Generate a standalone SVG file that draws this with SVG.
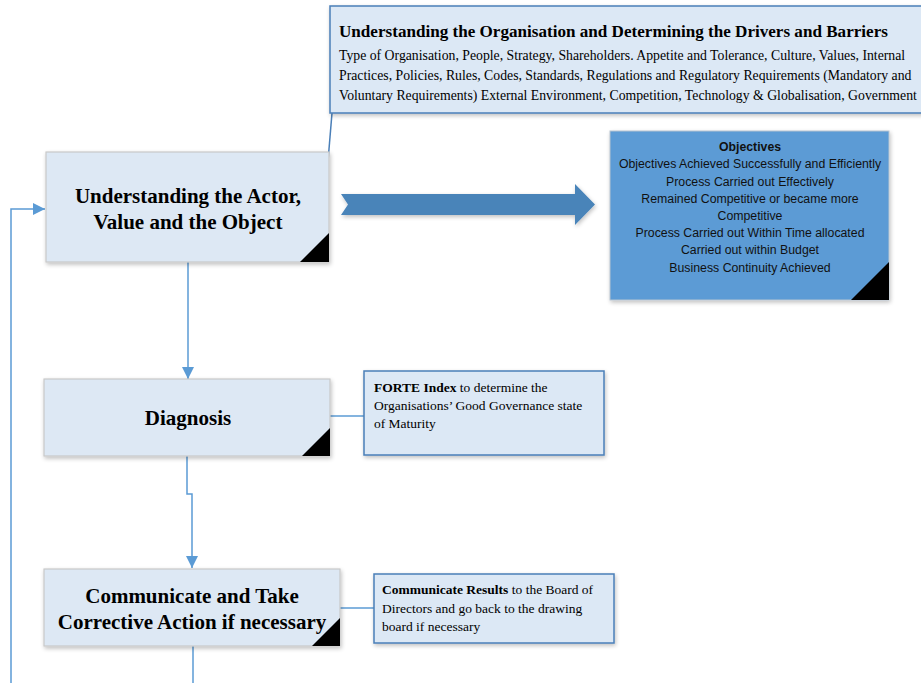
<svg xmlns="http://www.w3.org/2000/svg" width="921" height="683" viewBox="0 0 921 683">
<defs>
<filter id="sh" x="-10%" y="-10%" width="130%" height="130%">
<feGaussianBlur in="SourceAlpha" stdDeviation="2"/>
<feOffset dx="1" dy="2" result="b"/>
<feComponentTransfer><feFuncA type="linear" slope="0.25"/></feComponentTransfer>
<feMerge><feMergeNode/><feMergeNode in="SourceGraphic"/></feMerge>
</filter>
<marker id="ah" viewBox="0 0 10 10" refX="10" refY="5" markerWidth="12" markerHeight="12" markerUnits="userSpaceOnUse" orient="auto">
<path d="M0,0 L10,5 L0,10 Z" fill="#5b9bd5"/>
</marker>
</defs>
<style>
.main{fill:#dde8f4;stroke:#c9c9c9;stroke-width:1.2}
.note{fill:#dce8f5;stroke:#4a7fb8;stroke-width:1.5}
.corner{fill:#000}
.big{font-family:"Liberation Serif",serif;font-weight:bold;font-size:21px;fill:#000;text-anchor:middle}
.nt{font-family:"Liberation Serif",serif;font-size:13.5px;fill:#000}
.ob{font-family:"Liberation Sans",Arial,sans-serif;font-size:12.3px;fill:#111;text-anchor:middle}
.con{fill:none;stroke:#5b9bd5;stroke-width:1.5}
</style>
<rect width="921" height="683" fill="#fff"/>

<g id="connectors">
<line x1="328" y1="161" x2="332" y2="113" stroke="#4a7fb8" stroke-width="1.5"/>
<path class="con" d="M188,262 V379" marker-end="url(#ah)"/>
<path class="con" d="M187,456 V494 H192 V568" marker-end="url(#ah)"/>
<path class="con" d="M330,416 H364"/>
<path class="con" d="M340,608 H374"/>
<path class="con" d="M193,646 V683"/>
<path class="con" d="M11,683 V209 H45" marker-end="url(#ah)"/>
<path d="M341,194 H575 V184 L595,204.5 L575,225 V215 H341 L348,204.5 Z" fill="#4a84b9" filter="url(#sh)"/>
</g>

<g id="org">
<rect class="note" x="330" y="6" width="600" height="107" filter="url(#sh)"/>
<text x="339" y="37" font-family="Liberation Serif,serif" font-weight="bold" font-size="17.1" fill="#000">Understanding the Organisation and Determining the Drivers and Barriers</text>
<text class="nt" style="font-size:13.75px"><tspan x="339" y="60">Type of Organisation, People, Strategy, Shareholders. Appetite and Tolerance, Culture, Values, Internal</tspan><tspan x="339" y="80">Practices, Policies, Rules, Codes, Standards, Regulations and Regulatory Requirements (Mandatory and</tspan><tspan x="339" y="100">Voluntary Requirements) External Environment, Competition, Technology &amp; Globalisation, Government</tspan></text>
</g>

<g id="actor">
<rect class="main" x="46" y="152" width="283" height="110" filter="url(#sh)"/>
<path class="corner" d="M300,262 L329,233 V262 Z"/>
<text class="big"><tspan x="188" y="203">Understanding the Actor,</tspan><tspan x="188" y="229">Value and the Object</tspan></text>
</g>

<g id="objectives">
<rect x="610" y="131" width="279" height="169" fill="#5b9bd5" stroke="#b8c4d0" stroke-width="1" filter="url(#sh)"/>
<path class="corner" d="M851,300 L889,262 V300 Z"/>
<text class="ob"><tspan x="750" y="151" font-weight="bold">Objectives</tspan><tspan x="750" y="168">Objectives Achieved Successfully and Efficiently</tspan><tspan x="750" y="186">Process Carried out Effectively</tspan><tspan x="750" y="203">Remained Competitive or became more</tspan><tspan x="750" y="220">Competitive</tspan><tspan x="750" y="237">Process Carried out Within Time allocated</tspan><tspan x="750" y="254">Carried out within Budget</tspan><tspan x="750" y="272">Business Continuity Achieved</tspan></text>
</g>

<g id="diagnosis">
<rect class="main" x="44" y="379" width="286" height="77" filter="url(#sh)"/>
<path class="corner" d="M302,456 L330,428 V456 Z"/>
<text class="big" x="188" y="425">Diagnosis</text>
</g>

<g id="forte">
<rect class="note" x="364" y="371" width="240" height="84" filter="url(#sh)"/>
<text class="nt"><tspan x="374" y="392"><tspan font-weight="bold">FORTE Index</tspan> to determine the</tspan><tspan x="374" y="410">Organisations’ Good Governance state</tspan><tspan x="374" y="428">of Maturity</tspan></text>
</g>

<g id="communicate">
<rect class="main" x="44" y="569" width="296" height="77" filter="url(#sh)"/>
<path class="corner" d="M312,646 L340,618 V646 Z"/>
<text class="big"><tspan x="192" y="603">Communicate and Take</tspan><tspan x="192" y="629">Corrective Action if necessary</tspan></text>
</g>

<g id="results">
<rect class="note" x="374" y="574" width="240" height="69" filter="url(#sh)"/>
<text class="nt"><tspan x="382" y="594"><tspan font-weight="bold">Communicate Results</tspan> to the Board of</tspan><tspan x="382" y="613">Directors and go back to the drawing</tspan><tspan x="382" y="631">board if necessary</tspan></text>
</g>
</svg>
